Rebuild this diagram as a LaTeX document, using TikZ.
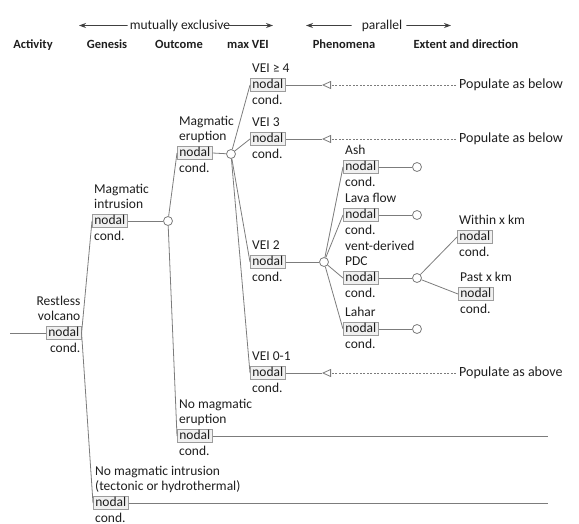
\documentclass[tikz,border=0pt]{standalone}
\usepackage{fontspec}
\setmainfont{Carlito}
\usetikzlibrary{arrows.meta}
\definecolor{ln}{HTML}{7C7C7C}
\definecolor{tx}{HTML}{1E1E1E}
\definecolor{bx}{HTML}{9C9C9C}
\definecolor{bxf}{HTML}{F0F0F0}
\newcommand\NC[4]{%
  \node[nodalbox] (#1) at (#2,#3) {nodal};
  \node[lbl] (#1-l) at (#2+2,#3-7.35) {#4\strut};
  \node[condlbl] (#1-c) at (#2+2,#3+19) {cond.};
}
\newcommand\NCR[4]{%
  \node[nodalbox] (#1) at (#2,#3) {nodal};
  \node[lbl,align=right,anchor=south east] (#1-l) at ([xshift=-1pt]#1.east |- 0,#3-7.35) {#4\strut};
  \node[condlbl,anchor=base east] (#1-c) at ([xshift=-1pt]#1.east |- 0,#3+19) {cond.};
}
\begin{document}
\begin{tikzpicture}[x=1pt,y=-1pt,
  body/.style={font=\fontsize{13.5}{15.5}\selectfont, text=tx},
  hdr/.style={font=\fontsize{12.5}{15}\selectfont\bfseries, text=tx, anchor=base, inner sep=0pt},
  nodalbox/.style={body, draw=bx, fill=bxf, line width=0.7pt, inner xsep=2pt, inner ysep=0.5pt, text height=9.5pt, text depth=2.5pt, anchor=west},
  lbl/.style={body, inner sep=0pt, align=left, anchor=south west},
  condlbl/.style={body, inner sep=0pt, anchor=base west},
  popl/.style={font=\fontsize{14}{16}\selectfont, text=tx, inner xsep=3pt, inner ysep=0pt, anchor=west},
  hub/.style={circle, draw=ln, fill=white, line width=0.8pt, minimum size=9pt, inner sep=0pt},
  conn/.style={draw=ln, line width=0.8pt},
  dashconn/.style={draw=ln, line width=0.8pt, dash pattern=on 2pt off 1.5pt, -{Triangle[open, length=9pt, width=8pt, line width=0.8pt, sep=0pt]}},
  harrow/.style={draw=tx!85, line width=0.8pt, -{Stealth[length=7pt, width=5pt]}}
]
\useasboundingbox (0,0) rectangle (579,523);

% header
\node[hdr] (hact) at (33,48) {Activity};
\node[hdr] (hgen) at (107,48) {Genesis};
\node[hdr] (hout) at (179,48) {Outcome};
\node[hdr] (hvei) at (248,48) {max VEI};
\node[hdr] (hphe) at (344,48) {Phenomena};
\node[hdr] (hext) at (466,48) {Extent and direction};

\node[body, anchor=base, inner sep=0pt] (mex) at (180,29) {mutually exclusive};
\coordinate (mexl) at (79,25.5);
\coordinate (mexr) at (273,25.5);
\draw[harrow] ([xshift=-2pt]mex.west) -- (mexl);
\draw[harrow] ([xshift=-7pt]mex.east) -- (mexr);

\node[body, anchor=base, inner sep=0pt] (par) at (382,29) {parallel};
\coordinate (parl) at (306,25.5);
\coordinate (parr) at (451,25.5);
\draw[harrow] ([xshift=-10pt]par.west) -- (parl);
\draw[harrow] ([xshift=4pt]par.east) -- (parr);

% nodes
\NCR{rv}{46}{333}{Restless\\volcano}
\NC{mi}{92}{221}{Magmatic\\intrusion}
\NC{nmi}{93}{503}{No magmatic intrusion\\(tectonic or hydrothermal)}
\NC{me}{177}{153}{Magmatic\\eruption}
\NC{nme}{177}{436}{No magmatic\\eruption}
\NC{v4}{250}{85}{VEI ≥ 4}
\NC{v3}{250}{139}{VEI 3}
\NC{v2}{250}{262}{VEI 2}
\NC{v01}{250}{373}{VEI 0-1}
\NC{ash}{343}{167}{Ash}
\NC{lava}{343}{215}{Lava flow}
\NC{pdc}{343}{278}{vent-derived\\PDC}
\NC{lahar}{343}{329}{Lahar}
\NC{within}{457}{237}{Within x km}
\NC{past}{458}{294}{Past x km}

% hubs
\node[hub] (cmi) at (168,221) {};
\node[hub] (cme) at (231,154) {};
\node[hub] (cv2) at (324,262) {};
\node[hub] (cash) at (417,167) {};
\node[hub] (clava) at (417,215) {};
\node[hub] (cpdc) at (417,278) {};
\node[hub] (clahar) at (417,329) {};

% populate
\node[popl] (p4) at (456,85) {Populate as below};
\node[popl] (p3) at (456,139) {Populate as below};
\node[popl] (p01) at (456,373) {Populate as above};
\coordinate (t4) at (322,85);
\coordinate (t3) at (322,139);
\coordinate (t01) at (322,373);

\coordinate (rin) at (10,333);
\coordinate (e1) at (548,436);
\coordinate (e2) at (548,503);

% connectors
\draw[conn] (rin) -- (rv.west);
\draw[conn] (rv.east) -- (mi.west);
\draw[conn] (rv.east) -- (nmi.west);

\draw[conn] (mi.east) -- (cmi);
\draw[conn] (cmi) -- (me.west);
\draw[conn] (cmi) -- (nme.west);
\draw[conn] (nme.east) -- (e1);
\draw[conn] (nmi.east) -- (e2);

\draw[conn] (me.east) -- (cme);
\draw[conn] (cme) -- (v4.west);
\draw[conn] (cme) -- (v3.west);
\draw[conn] (cme) -- (v2.west);
\draw[conn] (cme) -- (v01.west);

\draw[conn] (v4.east) -- (t4);
\draw[conn] (v3.east) -- (t3);
\draw[conn] (v01.east) -- (t01);
\draw[dashconn] (p4.west) -- (t4);
\draw[dashconn] (p3.west) -- (t3);
\draw[dashconn] (p01.west) -- (t01);

\draw[conn] (v2.east) -- (cv2);
\draw[conn] (cv2) -- (ash.west);
\draw[conn] (cv2) -- (lava.west);
\draw[conn] (cv2) -- (pdc.west);
\draw[conn] (cv2) -- (lahar.west);

\draw[conn] (ash.east) -- (cash);
\draw[conn] (lava.east) -- (clava);
\draw[conn] (pdc.east) -- (cpdc);
\draw[conn] (lahar.east) -- (clahar);

\draw[conn] (cpdc) -- (within.west);
\draw[conn] (cpdc) -- (past.west);
\end{tikzpicture}
\end{document}
